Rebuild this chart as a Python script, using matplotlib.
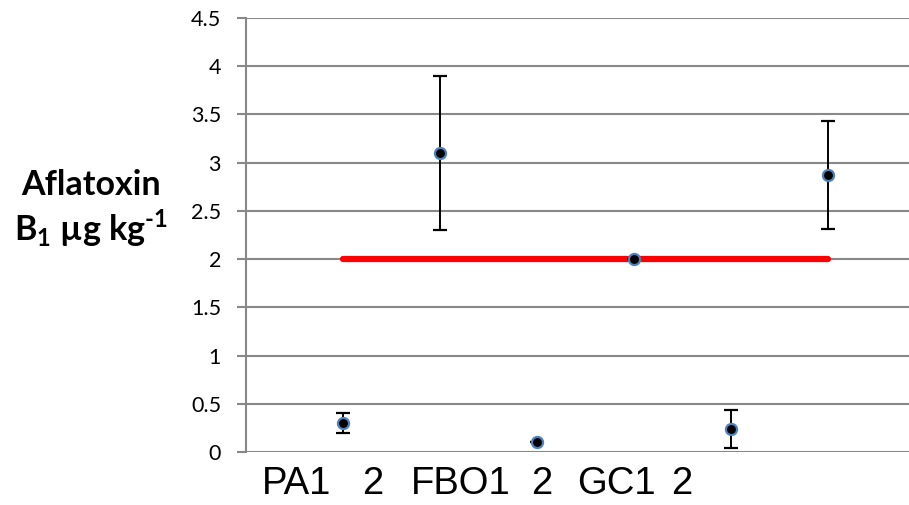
import numpy as np
import matplotlib
matplotlib.use("Agg")
import matplotlib.pyplot as plt

# sample means and error bar ranges
samples = ["PA1", "PA2", "FBO1", "FBO2", "GC1", "GC2"]
means = [0.30, 3.10, 0.10, 2.00, 0.24, 2.87]
err_low = [0.10, 0.80, 0.0, 0.0, 0.20, 0.56]
err_high = [0.10, 0.80, 0.0, 0.0, 0.20, 0.56]
limit = 2.0  # regulatory limit line

tick_labels = ["PA1", "2", "FBO1", "2", "GC1", "2"]
tick_pos = [0.52, 1.31, 2.22, 3.05, 3.82, 4.50]

plt.rcParams['font.family'] = ['Lato', 'DejaVu Sans']
plt.rcParams['mathtext.fontset'] = 'custom'
plt.rcParams['mathtext.rm'] = 'Lato'
plt.rcParams['mathtext.bf'] = 'Lato:bold'

fig = plt.figure(figsize=(9.09, 5.05), dpi=100)
ax = fig.add_axes([246/909, 53/505, 1 - 246/909, 434/505])

x = np.arange(1, len(samples) + 1)
grey = '#888888'

ax.set_ylim(0, 4.5)
ax.set_xlim(0, 6.84)
ax.set_yticks(np.arange(0, 4.51, 0.5))
ax.set_yticklabels(['0', '0.5', '1', '1.5', '2', '2.5', '3', '3.5', '4', '4.5'])
ax.yaxis.grid(True, color=grey, lw=1.5)
ax.set_axisbelow(True)
for s in ['top', 'right', 'bottom']:
    ax.spines[s].set_visible(False)
ax.spines['left'].set_color(grey)
ax.spines['left'].set_linewidth(1.5)
ax.tick_params(axis='y', color=grey, width=1.5, length=6.5, pad=11.5,
               labelsize=15.5)

ax.plot([x[0], x[-1]], [limit, limit], color='#ff0000', lw=4.5,
        solid_capstyle='round', zorder=2)

ax.errorbar(x, means, yerr=[err_low, err_high], fmt='o', color='black',
            ecolor='black', elinewidth=1.4, capsize=5, capthick=1.4,
            markersize=8, markerfacecolor='black',
            markeredgecolor='#4f81bd', markeredgewidth=1.6, zorder=3)

ax.set_xticks(tick_pos)
ax.set_xticklabels(tick_labels, fontfamily=['Liberation Sans Narrow', 'Liberation Sans'],
                   fontsize=27.5)
ax.tick_params(axis='x', length=0, pad=10)

fig.text(0.100, 0.633, 'Aflatoxin', fontsize=24.5, fontweight='bold',
         ha='center', va='center')
fig.text(0.100, 0.548, 'B$_\\mathbf{1}$ µg kg$^\\mathbf{\u20101}$', fontsize=24.5,
         fontweight='bold', ha='center', va='center')

fig.savefig('out.png', dpi=100)
